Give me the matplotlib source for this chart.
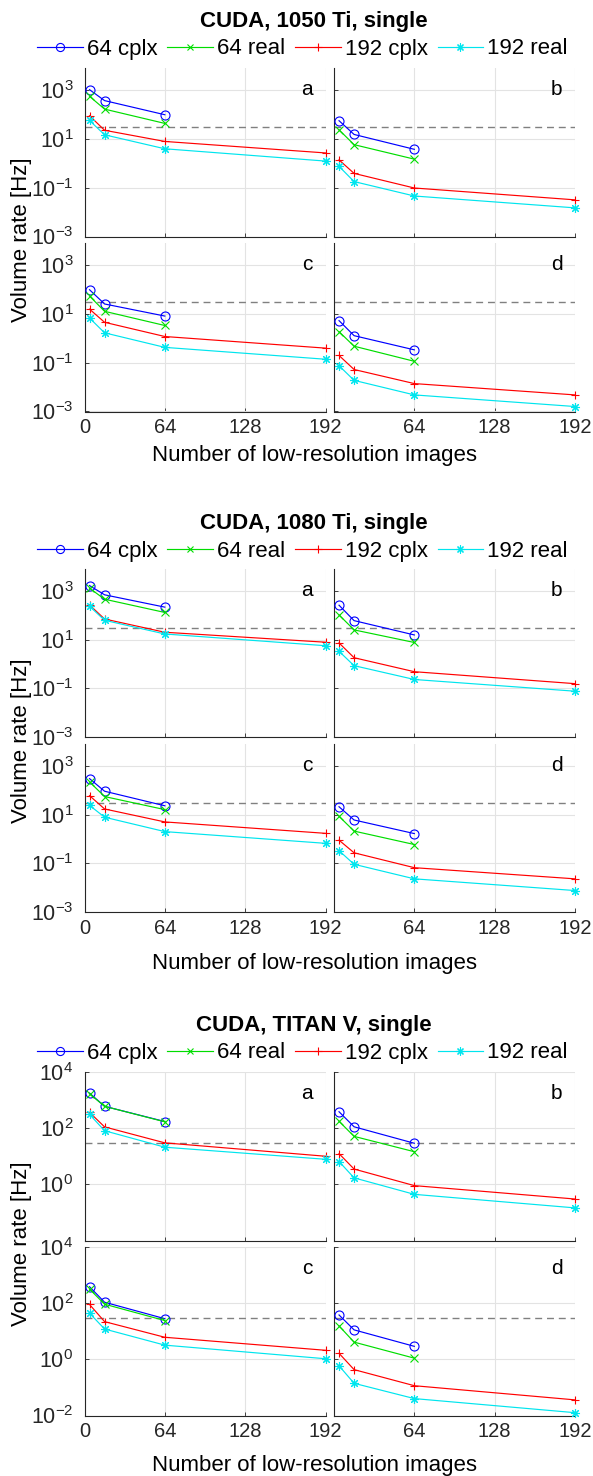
import numpy as np
import matplotlib
matplotlib.use("Agg")
import matplotlib.pyplot as plt

plt.rcParams['font.family'] = ['Liberation Sans', 'DejaVu Sans']
plt.rcParams['mathtext.fontset'] = 'custom'
plt.rcParams['mathtext.rm'] = 'Liberation Sans'
plt.rcParams['mathtext.it'] = 'Liberation Sans'

# ---------------- data ----------------
x64 = [4, 16, 64]
x192 = [4, 16, 64, 192]
series_labels = ["64 cplx", "64 real", "192 cplx", "192 real"]
panel_letters = ["a", "b", "c", "d"]
titles = ["CUDA, 1050 Ti, single", "CUDA, 1080 Ti, single", "CUDA, TITAN V, single"]
x_ticks = [0, 64, 128, 192]
x_label = "Number of low-resolution images"
y_label = "Volume rate [Hz]"
ref_rate = 30

# 1050 Ti
g1_a_64c = [1070, 380, 100]
g1_a_64r = [570, 170, 44]
g1_a_192c = [91, 23, 8, 2.7]
g1_a_192r = [58, 15, 4, 1.25]
g1_b_64c = [57, 15.5, 3.8]
g1_b_64r = [24, 5.9, 1.5]
g1_b_192c = [1.4, 0.39, 0.098, 0.032]
g1_b_192r = [0.76, 0.18, 0.046, 0.015]
g1_c_64c = [100, 26, 8.3]
g1_c_64r = [55, 13, 3.4]
g1_c_192c = [16, 4.6, 1.2, 0.40]
g1_c_192r = [6.9, 1.7, 0.43, 0.14]
g1_d_64c = [5.4, 1.3, 0.34]
g1_d_64r = [1.9, 0.48, 0.115]
g1_d_192c = [0.2, 0.053, 0.014, 0.0048]
g1_d_192r = [0.076, 0.019, 0.0048, 0.0016]

# 1080 Ti
g2_a_64c = [1650, 690, 215]
g2_a_64r = [1290, 455, 130]
g2_a_192c = [265, 70, 20, 7.8]
g2_a_192r = [234, 62, 17, 5.6]
g2_b_64c = [258, 60, 15.5]
g2_b_64r = [103, 25, 7.6]
g2_b_192c = [7.3, 1.8, 0.48, 0.155]
g2_b_192r = [3.3, 0.85, 0.23, 0.076]
g2_c_64c = [300, 91, 23]
g2_c_64r = [220, 55, 16]
g2_c_192c = [60, 17, 5, 1.7]
g2_c_192r = [24, 7.8, 2.0, 0.66]
g2_d_64c = [21, 6, 1.66]
g2_d_64r = [8.5, 2.1, 0.59]
g2_d_192c = [0.89, 0.27, 0.066, 0.023]
g2_d_192r = [0.33, 0.091, 0.023, 0.0076]

# TITAN V
g3_a_64c = [1780, 600, 172]
g3_a_64r = [1670, 600, 168]
g3_a_192c = [365, 111, 30, 10]
g3_a_192r = [310, 81, 21, 7.8]
g3_b_64c = [385, 112, 29]
g3_b_64r = [176, 51, 14.5]
g3_b_192c = [12.4, 3.5, 0.9, 0.30]
g3_b_192r = [6.5, 1.7, 0.44, 0.145]
g3_c_64c = [385, 108, 28]
g3_c_64r = [316, 92, 24]
g3_c_192c = [90, 22, 6.1, 2.1]
g3_c_192r = [44, 12, 3.2, 1.05]
g3_d_64c = [38, 11.2, 2.9]
g3_d_64r = [15.5, 4.1, 1.1]
g3_d_192c = [1.64, 0.43, 0.115, 0.036]
g3_d_192r = [0.59, 0.14, 0.04, 0.0126]

data = [
    [(g1_a_64c, g1_a_64r, g1_a_192c, g1_a_192r), (g1_b_64c, g1_b_64r, g1_b_192c, g1_b_192r),
     (g1_c_64c, g1_c_64r, g1_c_192c, g1_c_192r), (g1_d_64c, g1_d_64r, g1_d_192c, g1_d_192r)],
    [(g2_a_64c, g2_a_64r, g2_a_192c, g2_a_192r), (g2_b_64c, g2_b_64r, g2_b_192c, g2_b_192r),
     (g2_c_64c, g2_c_64r, g2_c_192c, g2_c_192r), (g2_d_64c, g2_d_64r, g2_d_192c, g2_d_192r)],
    [(g3_a_64c, g3_a_64r, g3_a_192c, g3_a_192r), (g3_b_64c, g3_b_64r, g3_b_192c, g3_b_192r),
     (g3_c_64c, g3_c_64r, g3_c_192c, g3_c_192r), (g3_d_64c, g3_d_64r, g3_d_192c, g3_d_192r)],
]

# ---------------- styling / layout ----------------
W, H = 593, 1476
DPI = 100
fig = plt.figure(figsize=(W / DPI, H / DPI), dpi=DPI)

colors = ['#0000ff', '#00dd00', '#ff0000', '#00e5ee']
markers = ['o', 'x', '+', (8, 2, 0)]
msizes = [6.5, 5.5, 6, 6.5]
FS_TICK_X = 14.5
FS_TICK_Y = 15.5
FS_LAB = 16
FS_LEG = 16
FS_LET = 15
dark = '#262626'

groups = [
    dict(top=68, ylim=(1e-3, 8.3e3), yticks=[1e-3, 1e-1, 1e1, 1e3], title_y=21.5, legend_y=49, xlabel_y=456,
         hide_top_bottom=False),
    dict(top=568.5, ylim=(1e-3, 8.3e3), yticks=[1e-3, 1e-1, 1e1, 1e3], title_y=523, legend_y=551, xlabel_y=963,
         hide_top_bottom=False),
    dict(top=1072, ylim=(1e-2, 1e4), yticks=[1e-2, 1e0, 1e2, 1e4], title_y=1025, legend_y=1053, xlabel_y=1465,
         hide_top_bottom=True),
]

col_x = [84.5, 334]
pw, ph = 241, 168.5
row_gap = 175


def add_ax(x0, y0, w, h):
    return fig.add_axes([x0 / W, 1 - (y0 + h) / H, w / W, h / H])


def exp_label(v):
    e = int(round(np.log10(v)))
    return r'$\mathdefault{10^{%d}}$' % e


for gi, g in enumerate(groups):
    handles = None
    for pi in range(4):
        r, c = divmod(pi, 2)
        ax = add_ax(col_x[c], g['top'] + r * row_gap, pw, ph)
        ax.set_yscale('log')
        ax.set_xlim(0, 192)
        ax.set_ylim(*g['ylim'])
        ax.axhline(ref_rate, color='#808080', lw=1.0, ls=(0, (5, 3.5)), zorder=1)
        hs = []
        for si in range(4):
            xs = x64 if si < 2 else x192
            h, = ax.plot(xs, data[gi][pi][si], color=colors[si], marker=markers[si],
                         ms=msizes[si], mfc='none', mew=0.8, lw=0.85, clip_on=False,
                         label=series_labels[si], zorder=3)
            hs.append(h)
        handles = hs
        ax.set_xticks(x_ticks)
        ax.set_yticks(g['yticks'])
        ax.yaxis.set_minor_locator(matplotlib.ticker.NullLocator())
        ax.grid(True, color='#e3e3e3', lw=0.8, zorder=0)
        ax.set_axisbelow(True)
        for s in ['top', 'right']:
            ax.spines[s].set_visible(False)
        for s in ['left', 'bottom']:
            ax.spines[s].set_color(dark)
            ax.spines[s].set_linewidth(0.8)
        ax.tick_params(direction='in', length=3, width=0.6, colors=dark)
        ax.tick_params(axis='x', labelsize=FS_TICK_X, labelcolor=dark, pad=5)
        ax.tick_params(axis='y', labelsize=FS_TICK_Y, labelcolor=dark, pad=8)
        if c == 1:
            ax.set_yticklabels([])
        else:
            labs = [exp_label(v) for v in g['yticks']]
            if r == 0 and g['hide_top_bottom']:
                labs[0] = ''
            ax.set_yticklabels(labs)
        if r == 0:
            ax.set_xticklabels([])
        elif c == 1:
            ax.set_xticklabels(['', '64', '128', '192'])
        ax.text(0.923, 0.87, panel_letters[pi], transform=ax.transAxes, ha='center',
                va='center', fontsize=FS_LET, color='black')
    # title
    fig.text(314 / W, 1 - g['title_y'] / H, titles[gi], ha='center', va='center',
             fontsize=FS_LAB, fontweight='bold')
    # legend
    fig.legend(handles, series_labels, loc='center', bbox_to_anchor=(302.5 / W, 1 - g['legend_y'] / H),
               ncol=4, frameon=False, fontsize=FS_LEG, handlelength=2.05, handletextpad=0.18,
               columnspacing=0.45, markerscale=0.9, borderpad=0, borderaxespad=0)
    # labels
    fig.text(314 / W, 1 - g['xlabel_y'] / H, x_label, ha='center', va='center', fontsize=FS_LAB)
    ymid = g['top'] + (row_gap + ph) / 2
    fig.text(21 / W, 1 - ymid / H, y_label, ha='center', va='center', rotation=90, fontsize=FS_LAB)

fig.savefig('out.png', dpi=DPI)
